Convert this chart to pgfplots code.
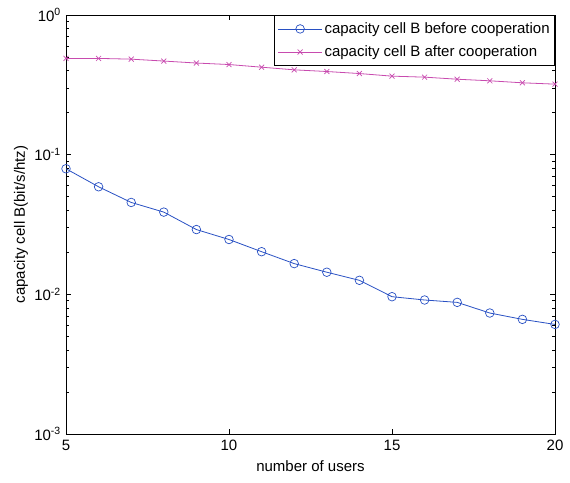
\documentclass[border=0pt]{standalone}
\usepackage{fontspec}
\setmainfont{Liberation Sans}
\usepackage{pgfplots}
\pgfplotsset{compat=1.18}

\definecolor{mblue}{RGB}{40,80,195}
\definecolor{mmag}{RGB}{200,75,175}

\begin{document}
\fontsize{15}{17}\selectfont
\begin{tikzpicture}
    \begin{axis}[
        scale only axis,
        width=489pt,
        height=419pt,
        ymode=log,
        log basis y=10,
        xmin=5, xmax=20,
        ymin=1e-3, ymax=1,
        xtick={5,10,15,20},
        ytick={1e-3,1e-2,1e-1,1},
        minor ytick={2e-3,3e-3,4e-3,5e-3,6e-3,7e-3,8e-3,9e-3,
                     2e-2,3e-2,4e-2,5e-2,6e-2,7e-2,8e-2,9e-2,
                     0.2,0.3,0.4,0.5,0.6,0.7,0.8,0.9},
        yticklabel={10\textsuperscript{\pgfmathparse{int(round(\tick))}\pgfmathresult}},
        /pgf/number format/assume math mode=true,
        tick align=inside,
        major tick length=5pt,
        minor tick length=3pt,
        tick style={black, line width=0.5pt},
        axis line style={black, line width=0.7pt},
        xticklabel style={font=\fontsize{15}{17}\selectfont, yshift=-1pt},
        yticklabel style={font=\fontsize{15}{17}\selectfont},
        xlabel={number of users},
        ylabel={capacity cell B(bit/s/htz)},
        label style={font=\fontsize{15}{17}\selectfont},
        every axis x label/.style={at={(axis description cs:0.5,-0.076)}, anchor=center},
        every axis y label/.style={at={(axis description cs:-0.092,0.5)}, rotate=90, anchor=center},
        legend cell align=left,
        legend style={at={(1,1)}, anchor=north east, draw=black, line width=0.7pt,
            font=\fontsize{15}{17}\selectfont, inner xsep=3pt, inner ysep=5pt,
            row sep=6pt},
        legend image code/.code={
            \draw[mark repeat=2, mark phase=2, #1] plot coordinates {(0pt,0pt) (22pt,0pt) (44pt,0pt)};
        },
        ]

        % before cooperation
        \addplot[mblue, line width=0.8pt, mark=o, mark size=4.3pt, mark options={line width=0.7pt}] coordinates {
            (5, 0.0793) (6, 0.0589) (7, 0.0455) (8, 0.0388) (9, 0.0291)
            (10, 0.0247) (11, 0.0202) (12, 0.0166) (13, 0.0144) (14, 0.0126)
            (15, 0.00962) (16, 0.00911) (17, 0.00876) (18, 0.00735) (19, 0.00662)
            (20, 0.00609)
        };
        \addlegendentry{capacity cell B before cooperation}

        % after cooperation
        \addplot[mmag, line width=0.8pt, mark=x, mark size=3.5pt, mark options={line width=0.7pt}] coordinates {
            (5, 0.489) (6, 0.489) (7, 0.483) (8, 0.468) (9, 0.453)
            (10, 0.442) (11, 0.423) (12, 0.405) (13, 0.394) (14, 0.381)
            (15, 0.365) (16, 0.359) (17, 0.347) (18, 0.338) (19, 0.327)
            (20, 0.320)
        };
        \addlegendentry{capacity cell B after cooperation}
    \end{axis}
    \pgfresetboundingbox
    \path[use as bounding box] (-66pt,-48pt) rectangle (504pt,434pt);
\end{tikzpicture}
\end{document}
